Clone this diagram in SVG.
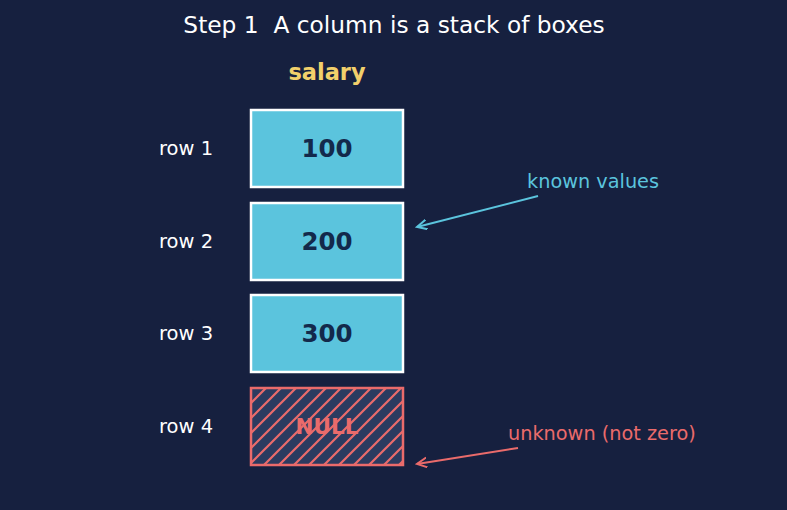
<svg xmlns="http://www.w3.org/2000/svg" width="787" height="510" viewBox="0 0 787 510">
<defs>
<style>
text{font-family:"DejaVu Sans","Liberation Sans",sans-serif}
.title{fill:#ffffff;font-size:23.3px}
.hdr{fill:#f2d06b;font-size:22.5px;font-weight:bold}
.row{fill:#ffffff;font-size:19.5px}
.box{fill:#5bc4dd;stroke:#ffffff;stroke-width:2.5}
.val{fill:#13294b;font-size:24.5px;font-weight:bold}
.nullbox{fill:url(#hatch);stroke:#ea6b6b;stroke-width:2.5}
.nulltxt{fill:#ea6b6b;font-size:21.5px;font-weight:bold}
.note1{fill:#5bc4dd;font-size:19.3px}
.note2{fill:#ea6b6b;font-size:19.3px}
</style>
<pattern id="hatch" patternUnits="userSpaceOnUse" x="251" y="388" width="15" height="15">
<rect width="15" height="15" fill="#2b3b60"/>
<path d="M-2,2 L2,-2 M0,15 L15,0 M13,17 L17,13" stroke="#ea6b6b" stroke-width="2.2"/>
</pattern>
<marker id="arrC" markerWidth="12" markerHeight="12" refX="10" refY="5" orient="auto" markerUnits="userSpaceOnUse">
<path d="M0,0 L10,5 L0,10" fill="none" stroke="#5bc4dd" stroke-width="2"/>
</marker>
<marker id="arrR" markerWidth="12" markerHeight="12" refX="10" refY="5" orient="auto" markerUnits="userSpaceOnUse">
<path d="M0,0 L10,5 L0,10" fill="none" stroke="#ea6b6b" stroke-width="2"/>
</marker>
</defs>
<rect width="787" height="510" fill="#16203f"/>
<text class="title" x="394" y="33" text-anchor="middle" xml:space="preserve">Step 1  A column is a stack of boxes</text>
<text class="hdr" x="327" y="80" text-anchor="middle">salary</text>
<g id="row1">
<text class="row" x="159" y="155">row 1</text>
<rect class="box" x="251" y="110" width="152" height="77"/>
<text class="val" x="327" y="157" text-anchor="middle">100</text>
</g>
<g id="row2">
<text class="row" x="159" y="248">row 2</text>
<rect class="box" x="251" y="203" width="152" height="77"/>
<text class="val" x="327" y="250" text-anchor="middle">200</text>
</g>
<g id="row3">
<text class="row" x="159" y="340">row 3</text>
<rect class="box" x="251" y="295" width="152" height="77"/>
<text class="val" x="327" y="342" text-anchor="middle">300</text>
</g>
<g id="row4">
<text class="row" x="159" y="433">row 4</text>
<rect class="nullbox" x="251" y="388" width="152" height="77"/>
<text class="nulltxt" x="327" y="434" text-anchor="middle">NULL</text>
</g>
<g id="note-known">
<text class="note1" x="527" y="188">known values</text>
</g>
<g id="note-unknown">
<text class="note2" x="508" y="440">unknown (not zero)</text>
</g>
<g id="connectors">
<line x1="538" y1="196" x2="417" y2="227" stroke="#5bc4dd" stroke-width="2" marker-end="url(#arrC)"/>
<line x1="518" y1="448" x2="417" y2="464" stroke="#ea6b6b" stroke-width="2" marker-end="url(#arrR)"/>
</g>
</svg>
